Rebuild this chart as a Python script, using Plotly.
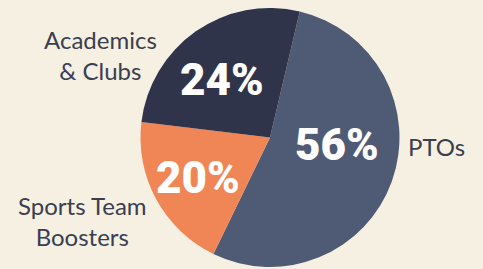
import plotly.graph_objects as go

# Data
categories = ["PTOs", "Sports Team Boosters", "Academics & Clubs"]
slice_shares = [53.5, 19.7, 26.8]          # shares as drawn in the picture
percent_labels = ["56%", "20%", "24%"]     # printed labels
outer_labels = ["PTOs", "Sports Team<br>Boosters", "Academics<br>& Clubs"]
colors = ["#4f5b74", "#f08556", "#30344a"]

BG = "#f5f0e2"
TXT = "#3b3e4f"

fig = go.Figure()
fig.add_trace(go.Pie(
    labels=categories,
    values=slice_shares,
    sort=False,
    direction="clockwise",
    rotation=13.3,
    marker=dict(colors=colors, line=dict(width=0)),
    textinfo="none",
    hoverinfo="label+value",
    showlegend=False,
    domain=dict(x=[0.2909, 0.8271], y=[0.0074, 0.9703]),
))

# percent labels inside slices
pct_pos = [(0.6977, 0.461), (0.41, 0.338), (0.4596, 0.7026)]
for txt, (x, y) in zip(percent_labels, pct_pos):
    fig.add_annotation(x=x, y=y, xref="paper", yref="paper", text=txt,
                       showarrow=False, xanchor="center", yanchor="middle",
                       font=dict(family="Roboto", size=44, color="white", weight=900))

# outer category labels
outer_pos = [(0.841, 0.457, "left"), (0.17, 0.178, "center"), (0.209, 0.7955, "center")]
for txt, (x, y, xa) in zip(outer_labels, outer_pos):
    fig.add_annotation(x=x, y=y, xref="paper", yref="paper", text=txt,
                       showarrow=False, xanchor=xa, yanchor="middle", align="center",
                       font=dict(family="Lato", size=24, color=TXT))

fig.update_layout(
    width=483, height=269,
    margin=dict(l=0, r=0, t=0, b=0),
    paper_bgcolor=BG, plot_bgcolor=BG,
)
fig.write_html("out.html",
               config={"displayModeBar": False},
               post_script="document.body.style.margin='0';document.body.style.background='%s';" % BG)
